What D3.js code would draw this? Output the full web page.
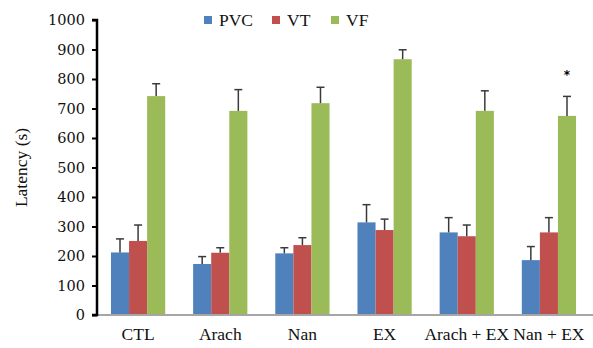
<!DOCTYPE html>
<html>
<head>
<meta charset="utf-8">
<script src="https://cdn.jsdelivr.net/npm/d3@7"></script>
<style>
  html, body { margin: 0; padding: 0; background: #fff; }
  svg { display: block; }
</style>
</head>
<body>
<svg id="chart" width="593" height="348"></svg>
<script>
// Groups and series
const categories = ["CTL", "Arach", "Nan", "EX", "Arach + EX", "Nan + EX"];
const seriesNames = ["PVC", "VT", "VF"];
const seriesColors = ["#4F81BD", "#C0504D", "#9BBB59"];

// Mean latency (s) per group
const pvc = [212, 173, 209, 314, 280, 186];
const vt  = [251, 211, 237, 288, 267, 280];
const vf  = [742, 692, 718, 867, 692, 675];

// Upper end of each error bar (s)
const pvcErr = [258, 198, 228, 374, 330, 232];
const vtErr  = [305, 228, 262, 325, 305, 330];
const vfErr  = [784, 764, 772, 899, 760, 741];

const yTicks = [0, 100, 200, 300, 400, 500, 600, 700, 800, 900, 1000];
const starred = [{ category: "Nan + EX", series: "VF", value: 825 }];

const values = [pvc, vt, vf];
const errs = [pvcErr, vtErr, vfErr];

const serif = "'Liberation Serif', 'Times New Roman', serif";
const numFont = "'DejaVu Serif', serif";

const svg = d3.select("#chart");
const margin = { left: 97, right: 3, top: 20, bottom: 33 };
const width = 593, height = 348;

const x = d3.scaleBand().domain(categories)
  .range([margin.left, width - margin.right]).paddingInner(0.34).paddingOuter(0.17);
const xs = d3.scaleBand().domain(seriesNames).range([0, x.bandwidth()]);
const y = d3.scaleLinear().domain([0, 1000]).range([height - margin.bottom, margin.top]);

// Bars
const rows = [];
categories.forEach((c, i) => seriesNames.forEach((s, j) => {
  rows.push({ c, s, j, v: values[j][i], e: errs[j][i] });
}));

svg.append("g").selectAll("rect").data(rows).join("rect")
  .attr("x", d => x(d.c) + xs(d.s))
  .attr("y", d => y(d.v))
  .attr("width", xs.bandwidth())
  .attr("height", d => y(0) - y(d.v))
  .attr("fill", d => seriesColors[d.j]);

// Error bars (upper half only)
const eg = svg.append("g").attr("stroke", "#3a3a3a").attr("stroke-width", 1.5);
eg.selectAll("line.v").data(rows).join("line").attr("class", "v")
  .attr("x1", d => x(d.c) + xs(d.s) + xs.bandwidth() / 2)
  .attr("x2", d => x(d.c) + xs(d.s) + xs.bandwidth() / 2)
  .attr("y1", d => y(d.v))
  .attr("y2", d => y(d.e));
eg.selectAll("line.cap").data(rows).join("line").attr("class", "cap")
  .attr("x1", d => x(d.c) + xs(d.s) + xs.bandwidth() / 2 - 4)
  .attr("x2", d => x(d.c) + xs(d.s) + xs.bandwidth() / 2 + 4)
  .attr("y1", d => y(d.e))
  .attr("y2", d => y(d.e));

// Significance marker
svg.append("g").selectAll("text").data(starred).join("text")
  .attr("x", d => x(d.category) + xs(d.series) + xs.bandwidth() / 2)
  .attr("y", d => y(d.value) + 7)
  .attr("text-anchor", "middle")
  .style("font-size", "12px")
  .style("font-weight", "bold")
  .style("font-family", "'DejaVu Sans', sans-serif")
  .style("fill", "#000")
  .text("*");

// X axis
const xAxis = svg.append("g").attr("transform", `translate(0,${y(0)})`)
  .call(d3.axisBottom(x).tickSize(0).tickPadding(13));
xAxis.select(".domain").attr("stroke", "#a6a6a6").attr("stroke-width", 2)
  .attr("d", `M${margin.left},0H${width}`);
xAxis.selectAll("text")
  .style("font-size", "17.5px").style("font-family", serif).style("fill", "#111");

// Y axis
const yAxis = svg.append("g").attr("transform", `translate(${margin.left},0)`)
  .call(d3.axisLeft(y).tickValues(yTicks).tickSize(5).tickPadding(7).tickFormat(d3.format("d")));
yAxis.select(".domain").attr("stroke", "#000").attr("stroke-width", 2.5)
  .attr("d", `M-5,${y(1000)}H0V${y(0)}H-5`);
yAxis.selectAll(".tick line").attr("stroke", "#000").attr("stroke-width", 2);
yAxis.selectAll("text")
  .style("font-size", "14.5px").style("font-family", numFont).style("fill", "#111");

// Axis title
svg.append("text")
  .attr("transform", `translate(27,${(y(0) + y(1000)) / 2}) rotate(-90)`)
  .attr("text-anchor", "middle")
  .style("font-size", "17.5px")
  .style("font-family", serif)
  .style("fill", "#111")
  .text("Latency (s)");

// Legend
const legendX = [204, 272, 331];
const lg = svg.append("g").selectAll("g").data(seriesNames).join("g")
  .attr("transform", (d, i) => `translate(${legendX[i]},16)`);
lg.append("rect").attr("width", 8).attr("height", 8).attr("y", 0)
  .attr("fill", (d, i) => seriesColors[i]);
lg.append("text").attr("x", 15).attr("y", 10)
  .style("font-size", "17.5px").style("font-family", serif).style("fill", "#111")
  .text(d => d);
</script>
</body>
</html>
